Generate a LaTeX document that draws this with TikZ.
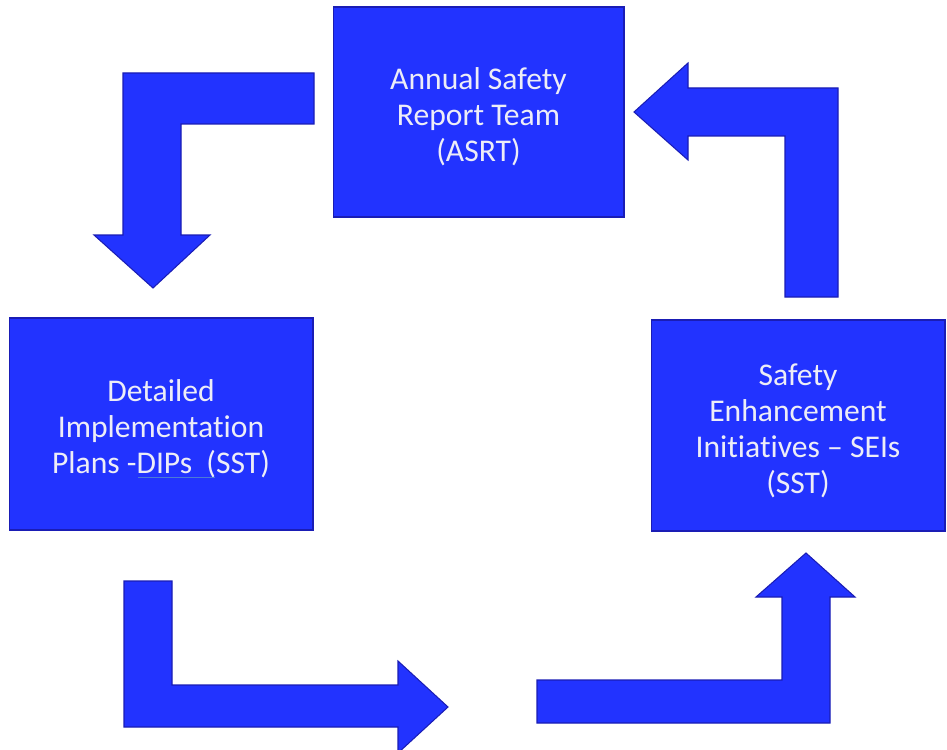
\documentclass[tikz,border=0pt]{standalone}
\usepackage{fontspec}
\setmainfont{Carlito}[RawFeature={-liga;-calt;-dlig}]
\definecolor{blockblue}{HTML}{2233FF}
\definecolor{blockedge}{HTML}{1A1DB5}
\definecolor{labelwhite}{HTML}{EDEDF7}
\definecolor{spellline}{HTML}{4C7BD6}

\begin{document}
\begin{tikzpicture}[x=0.02cm,y=-0.02cm,
  every node/.style={font=\fontsize{18}{20.5}\selectfont,align=center,text=labelwhite},
  box/.style={draw=blockedge,fill=blockblue,line width=0.6pt,inner sep=0pt},
  boxtext/.style={inner sep=0pt,yshift=-2.8pt},
  bent/.style={draw=blockedge,fill=blockblue,line width=0.6pt,line join=miter}]
 \useasboundingbox (0,0) rectangle (947,750);
 \node[box,minimum width=5.82cm,minimum height=4.2cm] (asrt) at (478.5,112) {};
 \node[box,minimum width=6.08cm,minimum height=4.24cm] (dips) at (161,424) {};
 \node[box,minimum width=5.88cm,minimum height=4.22cm] (seis) at (798,425.5) {};
 \node[boxtext] (asrttext) at (asrt.center) {Annual Safety\\Report Team\\(ASRT)};
 \node[boxtext] (dipstext) at (dips.center) {Detailed\\Implementation\\Plans -DIPs\ \ (SST)};
 \node[boxtext] (seistext) at (seis.center) {Safety\\Enhancement\\Initiatives -- SEIs\\(SST)};
 \draw[spellline,line width=0.5pt] (138,477) -- (215,477);
 % bent block arrows round the cycle
 \draw[bent] (314,73) -- (123,73) -- (123,235) -- (94,235) -- (153,288) -- (210,235) -- (181,235) -- (181,124) -- (314,124) -- cycle;
 \draw[bent] (124,581) -- (172,581) -- (172,685) -- (398,685) -- (398,661) -- (448,707) -- (398,753) -- (398,727) -- (124,727) -- cycle;
 \draw[bent] (537,680) -- (782,680) -- (782,597) -- (756,597) -- (806,553) -- (855,597) -- (830,597) -- (830,723) -- (537,723) -- cycle;
 \draw[bent] (634,112) -- (688,63) -- (688,88) -- (838,88) -- (838,297) -- (785,297) -- (785,136) -- (688,136) -- (688,160) -- cycle;
\end{tikzpicture}
\end{document}
